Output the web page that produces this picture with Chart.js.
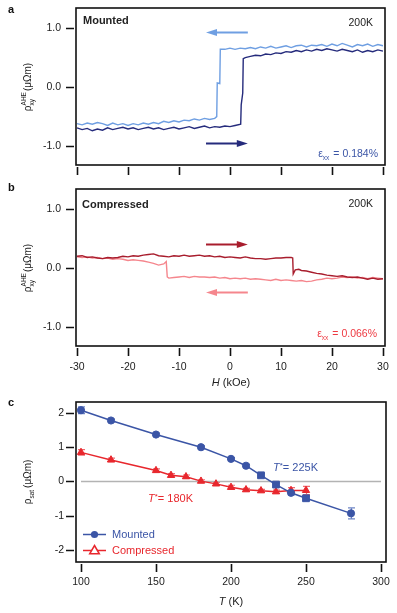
<!DOCTYPE html>
<html><head><meta charset="utf-8">
<script src="https://cdn.jsdelivr.net/npm/chart.js@4/dist/chart.umd.min.js"></script>
<style>
html,body{margin:0;padding:0;background:#fff;width:397px;height:613px;overflow:hidden}
canvas{position:absolute;left:0;top:0;width:397px;height:613px}
</style></head>
<body>
<canvas id="ca" width="397" height="613"></canvas>
<canvas id="cb" width="397" height="613"></canvas>
<canvas id="cc" width="397" height="613"></canvas>
<script>
// ---------------- data ----------------
const H_TICKS = [-30, -20, -10, 0, 10, 20, 30];
const RHO_TICKS = [-1, 0, 1];
const T_TICKS = [100, 150, 200, 250, 300];
const RSAT_TICKS = [-2, -1, 0, 1, 2];

// panel a : Mounted, field sweep down (light blue)
const A_DOWN_H = [30,29,28,27,26,25,24,23,22,21,20,19,18,17,16,15,14,13,12,11,10,9,8,7,6,5,4,3,2,1,0,-1,-1.9,-2.0,-2.5,-2.6,-3,-4,-5,-6,-7,-8,-9,-10,-11,-12,-13,-14,-15,-16,-17,-18,-19,-20,-21,-22,-23,-24,-25,-26,-27,-28,-29,-30];
const A_DOWN_RHO = [0.70,0.72,0.69,0.73,0.70,0.72,0.68,0.71,0.74,0.70,0.73,0.69,0.72,0.70,0.71,0.68,0.71,0.70,0.67,0.70,0.68,0.66,0.69,0.66,0.68,0.65,0.67,0.65,0.66,0.64,0.66,0.64,0.64,0.06,0.07,-0.50,-0.53,-0.55,-0.53,-0.56,-0.54,-0.57,-0.56,-0.59,-0.57,-0.60,-0.58,-0.62,-0.60,-0.63,-0.61,-0.64,-0.62,-0.65,-0.62,-0.64,-0.61,-0.65,-0.62,-0.60,-0.63,-0.61,-0.64,-0.62];
// panel a : Mounted, field sweep up (navy)
const A_UP_H = [-30,-29,-28,-27,-26,-25,-24,-23,-22,-21,-20,-19,-18,-17,-16,-15,-14,-13,-12,-11,-10,-9,-8,-7,-6,-5,-4,-3,-2,-1,0,1,2.1,2.2,2.5,2.6,3,4,5,6,7,8,9,10,11,12,13,14,15,16,17,18,19,20,21,22,23,24,25,26,27,28,29,30];
const A_UP_RHO = [-0.69,-0.72,-0.70,-0.74,-0.71,-0.73,-0.69,-0.72,-0.70,-0.68,-0.71,-0.69,-0.72,-0.70,-0.68,-0.71,-0.69,-0.72,-0.70,-0.68,-0.71,-0.69,-0.67,-0.70,-0.68,-0.66,-0.69,-0.67,-0.68,-0.66,-0.67,-0.65,-0.63,-0.30,-0.10,0.48,0.50,0.52,0.54,0.53,0.56,0.55,0.58,0.57,0.60,0.59,0.62,0.60,0.63,0.61,0.64,0.62,0.65,0.63,0.61,0.64,0.62,0.60,0.63,0.59,0.62,0.60,0.63,0.61];

// panel b : Compressed, field sweep up (dark red)
const B_UP_H = [-30,-29,-28,-27,-26,-25,-24,-23,-22,-21,-20,-19,-18,-17,-16,-15,-14,-13,-12,-11,-10,-9,-8,-7,-6,-5,-4,-3,-2,-1,0,1,2,3,4,5,6,7,8,9,10,11,12,12.3,12.4,12.8,13.5,14,15,16,17,18,19,20,21,22,23,24,25,26,27,28,29,30];
const B_UP_RHO = [0.20,0.21,0.18,0.19,0.17,0.16,0.18,0.17,0.18,0.20,0.19,0.21,0.20,0.22,0.23,0.24,0.21,0.20,0.19,0.21,0.20,0.22,0.20,0.21,0.22,0.20,0.21,0.19,0.20,0.18,0.19,0.18,0.17,0.19,0.17,0.16,0.16,0.15,0.16,0.17,0.17,0.18,0.18,0.17,-0.10,-0.03,-0.02,-0.04,-0.05,-0.07,-0.09,-0.10,-0.12,-0.13,-0.14,-0.13,-0.15,-0.16,-0.15,-0.17,-0.19,-0.17,-0.19,-0.18];
// panel b : Compressed, field sweep down (light red)
const B_DOWN_H = [30,29,28,27,26,25,24,23,22,21,20,19,18,17,16,15,14,13,12,11,10,9,8,7,6,5,4,3,2,1,0,-1,-2,-3,-4,-5,-6,-7,-8,-9,-10,-11,-12,-12.3,-12.5,-13,-14,-15,-16,-17,-18,-19,-20,-21,-22,-23,-24,-25,-26,-27,-28,-29,-30];
const B_DOWN_RHO = [-0.18,-0.17,-0.16,-0.18,-0.16,-0.17,-0.15,-0.16,-0.15,-0.17,-0.18,-0.17,-0.19,-0.20,-0.22,-0.23,-0.21,-0.22,-0.21,-0.20,-0.21,-0.19,-0.21,-0.20,-0.19,-0.18,-0.19,-0.17,-0.18,-0.17,-0.18,-0.16,-0.17,-0.15,-0.16,-0.15,-0.15,-0.14,-0.16,-0.14,-0.15,-0.16,-0.17,-0.15,0.11,0.07,0.05,0.08,0.10,0.12,0.13,0.14,0.13,0.15,0.16,0.15,0.17,0.16,0.18,0.17,0.19,0.18,0.19];

// panel c : saturated AHE vs temperature
const T_MOUNTED = [100,120,150,180,200,210,220,230,240,250,280];
const RSAT_MOUNTED = [2.08,1.78,1.37,1.00,0.66,0.46,0.18,-0.09,-0.33,-0.49,-0.93];
const ERR_MOUNTED = [0.10,0.04,0.04,0.04,0.04,0.04,0.05,0.05,0.06,0.06,0.16];
const T_COMPRESSED = [100,120,150,160,170,180,190,200,210,220,230,240,250];
const RSAT_COMPRESSED = [0.85,0.63,0.32,0.18,0.14,0.01,-0.07,-0.17,-0.24,-0.27,-0.30,-0.26,-0.26];
const ERR_COMPRESSED = [0.08,0.05,0.05,0.05,0.05,0.04,0.04,0.06,0.04,0.04,0.05,0.08,0.12];
const ZERO_T = [100,300];
const ZERO_V = [0,0];

// ---------------- style ----------------
const FAM = '"Liberation Sans", Arial, Helvetica, sans-serif';
const LIGHT_BLUE = '#6f9fe2', NAVY = '#252b7c';
const DARK_RED = '#a81d2d', LIGHT_RED = '#f5868d';
const C_BLUE = '#3b55a6', C_RED = '#e8272d';
function fnt(size, style){ return (style ? style + ' ' : '') + size + 'px ' + FAM; }
function pts(xs, ys){ return xs.map((x,i)=>({x:x, y:ys[i]})); }
function fixedTicks(vals){ return s => { s.ticks = vals.map(v => ({value:v})); }; }
function fitX(h){ return s => { s.height = h; s.paddingLeft = 0; s.paddingRight = 0; s.paddingTop = 0; s.paddingBottom = 0; }; }
function fitY(w){ return s => { s.width = w; s.paddingLeft = 0; s.paddingRight = 0; s.paddingTop = 0; s.paddingBottom = 0; }; }

function rich(ctx, segs, x, y, align, color){
  let w = 0;
  segs.forEach(s => {
    if (s.stack){ ctx.font = fnt(s.size); s.w = Math.max(...s.stack.map(t=>ctx.measureText(t.t).width)); }
    else { ctx.font = fnt(s.size, s.style); s.w = ctx.measureText(s.t).width; }
    w += s.w + (s.gap||0);
  });
  let cx = align === 'right' ? x - w : (align === 'center' ? x - w/2 : x);
  ctx.fillStyle = color; ctx.textAlign = 'left'; ctx.textBaseline = 'alphabetic';
  segs.forEach(s => {
    if (s.stack){ ctx.font = fnt(s.size); s.stack.forEach(t => ctx.fillText(t.t, cx, y + t.dy)); }
    else { ctx.font = fnt(s.size, s.style); ctx.fillText(s.t, cx, y + (s.dy||0)); }
    cx += s.w + (s.gap||0);
  });
}
function text(ctx, s, x, y, size, style, color, align){
  ctx.font = fnt(size, style); ctx.fillStyle = color; ctx.textAlign = align || 'left'; ctx.textBaseline = 'alphabetic';
  ctx.fillText(s, x, y);
}
function vTitle(ctx, segs, cx, cy){
  ctx.save(); ctx.translate(cx, cy); ctx.rotate(-Math.PI/2);
  rich(ctx, segs, 0, 4, 'center', '#222');
  ctx.restore();
}
function arrow(ctx, chart, x1, x2, yv, color, dir){
  const xs = chart.scales.x, ys = chart.scales.y;
  const a = xs.getPixelForValue(x1), b = xs.getPixelForValue(x2), y = Math.round(ys.getPixelForValue(yv)) + 0.5;
  const head = 11, hh = 3.6;
  ctx.save(); ctx.strokeStyle = color; ctx.fillStyle = color; ctx.lineWidth = 2;
  ctx.beginPath();
  if (dir > 0){ ctx.moveTo(a, y); ctx.lineTo(b - head + 1, y); }
  else { ctx.moveTo(b, y); ctx.lineTo(a + head - 1, y); }
  ctx.stroke();
  ctx.beginPath();
  if (dir > 0){ ctx.moveTo(b, y); ctx.lineTo(b - head, y - hh); ctx.lineTo(b - head, y + hh); }
  else { ctx.moveTo(a, y); ctx.lineTo(a + head, y - hh); ctx.lineTo(a + head, y + hh); }
  ctx.closePath(); ctx.fill();
  ctx.restore();
}
function frame(chart){
  const ctx = chart.ctx, ca = chart.chartArea;
  ctx.save(); ctx.strokeStyle = '#111'; ctx.lineWidth = 1.6;
  ctx.strokeRect(ca.left, ca.top, ca.right - ca.left, ca.bottom - ca.top);
  ctx.lineWidth = 1.6; ctx.beginPath();
  chart.scales.x.ticks.forEach(t => { const p = Math.round(chart.scales.x.getPixelForValue(t.value)) + 0.5; ctx.moveTo(p, ca.bottom + 2); ctx.lineTo(p, ca.bottom + 10); });
  chart.scales.y.ticks.forEach(t => { const p = Math.round(chart.scales.y.getPixelForValue(t.value)) + 0.5; ctx.moveTo(ca.left - 2, p); ctx.lineTo(ca.left - 10, p); });
  ctx.stroke(); ctx.restore();
}
function deco(fnAfter, fnBefore){
  return { id:'deco',
    beforeDatasetsDraw(chart){ if (fnBefore) fnBefore(chart, chart.ctx); },
    afterDraw(chart){ frame(chart); fnAfter(chart, chart.ctx); } };
}
const TICK_FONT = {family: FAM, size: 10.5};
function baseOptions(pad, xCfg, yCfg){
  return {
    responsive:false, animation:false, devicePixelRatio:1,
    layout:{padding:pad},
    plugins:{legend:{display:false}, tooltip:{enabled:false}},
    elements:{point:{radius:0}, line:{tension:0}},
    scales:{
      x: Object.assign({type:'linear', grid:{display:false, drawTicks:false}, border:{display:false}}, xCfg),
      y: Object.assign({type:'linear', grid:{display:false, drawTicks:false}, border:{display:false}}, yCfg)
    }
  };
}
const RHO_TITLE = [
  {t:'\u03C1', size:10},
  {stack:[{t:'xy', dy:3}, {t:'AHE', dy:-5}], size:6.5, gap:1},
  {t:'(\u03BC\u03A9m)', size:10}
];

// ---------------- panel a ----------------
new Chart(document.getElementById('ca'), {
  type:'line',
  data:{datasets:[
    {data:pts(A_UP_H, A_UP_RHO), borderColor:NAVY, borderWidth:1.4},
    {data:pts(A_DOWN_H, A_DOWN_RHO), borderColor:LIGHT_BLUE, borderWidth:1.4}
  ]},
  options: baseOptions({left:0, right:12, top:8, bottom:428},
    {min:-30.2, max:30.4, afterBuildTicks:fixedTicks(H_TICKS), afterFit:fitX(20), ticks:{display:false}},
    {min:-1.32, max:1.34, afterBuildTicks:fixedTicks(RHO_TICKS), afterFit:fitY(76),
     ticks:{padding:15, font:TICK_FONT, color:'#222', callback:v=>v.toFixed(1)}}),
  plugins:[deco((chart, ctx) => {
    text(ctx, 'a', 8, 13, 11, 'bold', '#111');
    text(ctx, 'Mounted', 83, 24, 11, 'bold', '#222');
    text(ctx, '200K', 373, 26, 10.5, '', '#222', 'right');
    rich(ctx, [{t:'\u03B5', size:10.5}, {t:'xx', size:6.5, dy:3, gap:4}, {t:'= 0.184%', size:10.5}], 378, 157, 'right', C_BLUE);
    vTitle(ctx, RHO_TITLE, 27, 87);
    arrow(ctx, chart, -4.7, 3.5, 0.93, LIGHT_BLUE, -1);
    arrow(ctx, chart, -4.7, 3.5, -0.95, NAVY, 1);
  })]
});

// ---------------- panel b ----------------
new Chart(document.getElementById('cb'), {
  type:'line',
  data:{datasets:[
    {data:pts(B_UP_H, B_UP_RHO), borderColor:DARK_RED, borderWidth:1.4},
    {data:pts(B_DOWN_H, B_DOWN_RHO), borderColor:LIGHT_RED, borderWidth:1.4}
  ]},
  options: baseOptions({left:0, right:12, top:189, bottom:227},
    {min:-30.2, max:30.4, afterBuildTicks:fixedTicks(H_TICKS), afterFit:fitX(40),
     ticks:{padding:15, font:TICK_FONT, color:'#222', maxRotation:0, autoSkip:false}},
    {min:-1.32, max:1.34, afterBuildTicks:fixedTicks(RHO_TICKS), afterFit:fitY(76),
     ticks:{padding:15, font:TICK_FONT, color:'#222', callback:v=>v.toFixed(1)}}),
  plugins:[deco((chart, ctx) => {
    text(ctx, 'b', 8, 191, 11, 'bold', '#111');
    text(ctx, 'Compressed', 82, 208, 11, 'bold', '#222');
    text(ctx, '200K', 373, 207, 10.5, '', '#222', 'right');
    rich(ctx, [{t:'\u03B5', size:10.5}, {t:'xx', size:6.5, dy:3, gap:4}, {t:'= 0.066%', size:10.5}], 377, 337, 'right', '#ee3a42');
    vTitle(ctx, RHO_TITLE, 27, 268);
    rich(ctx, [{t:'H', size:11, style:'italic', gap:0}, {t:' (kOe)', size:11}], 231, 386, 'center', '#222');
    arrow(ctx, chart, -4.7, 3.5, 0.41, DARK_RED, 1);
    arrow(ctx, chart, -4.7, 3.5, -0.41, LIGHT_RED, -1);
  })]
});

// ---------------- panel c ----------------
function errBars(chart, ctx){
  const xs = chart.scales.x, ys = chart.scales.y;
  const sets = [[T_MOUNTED, RSAT_MOUNTED, ERR_MOUNTED, '#6f86c6'], [T_COMPRESSED, RSAT_COMPRESSED, ERR_COMPRESSED, '#f06a70']];
  ctx.save(); ctx.lineWidth = 1.2;
  sets.forEach(([T, V, E, col]) => {
    ctx.strokeStyle = col; ctx.beginPath();
    T.forEach((t, i) => {
      const x = Math.round(xs.getPixelForValue(t)) + 0.5, y1 = ys.getPixelForValue(V[i] + E[i]), y2 = ys.getPixelForValue(V[i] - E[i]);
      ctx.moveTo(x, y1); ctx.lineTo(x, y2);
      ctx.moveTo(x - 3.5, y1); ctx.lineTo(x + 3.5, y1);
      ctx.moveTo(x - 3.5, y2); ctx.lineTo(x + 3.5, y2);
    });
    ctx.stroke();
  });
  ctx.restore();
}
const MOUNTED_STYLE = ['circle','circle','circle','circle','circle','circle','rect','rect','circle','rect','circle'];
new Chart(document.getElementById('cc'), {
  type:'line',
  data:{datasets:[
    {data:pts(T_MOUNTED, RSAT_MOUNTED), borderColor:C_BLUE, backgroundColor:C_BLUE, borderWidth:1.5,
     pointStyle:MOUNTED_STYLE, pointRadius:MOUNTED_STYLE.map(s => s === 'rect' ? 4.8 : 3.6), pointBorderWidth:1},
    {data:pts(T_COMPRESSED, RSAT_COMPRESSED), borderColor:C_RED, backgroundColor:C_RED, borderWidth:1.5,
     pointStyle:'triangle', pointRadius:4.2, pointBorderWidth:1},
    {data:pts(ZERO_T, ZERO_V), borderColor:'#b3b3b3', borderWidth:1.5, pointRadius:0}
  ]},
  options: baseOptions({left:0, right:11, top:402, bottom:11},
    {min:96.67, max:303.33, afterBuildTicks:fixedTicks(T_TICKS), afterFit:fitX(40),
     ticks:{padding:14, font:TICK_FONT, color:'#222', maxRotation:0, autoSkip:false}},
    {min:-2.35, max:2.32, afterBuildTicks:fixedTicks(RSAT_TICKS), afterFit:fitY(76),
     ticks:{padding:12, font:TICK_FONT, color:'#222'}}),
  plugins:[deco((chart, ctx) => {
    text(ctx, 'c', 8, 406, 11, 'bold', '#111');
    vTitle(ctx, [{t:'\u03C1', size:10}, {t:'sat', size:6.5, dy:3, gap:2}, {t:'(\u03BC\u03A9m)', size:10}], 27, 482);
    rich(ctx, [{t:'T', size:11, style:'italic'}, {t:' (K)', size:11}], 231, 605, 'center', '#222');
    rich(ctx, [{t:'T', size:11, style:'italic'}, {t:'*', size:8, dy:-3}, {t:'= 180K', size:11}], 148, 502, 'left', C_RED);
    rich(ctx, [{t:'T', size:11, style:'italic'}, {t:'*', size:8, dy:-3}, {t:'= 225K', size:11}], 273, 471, 'left', C_BLUE);
    ctx.save();
    ctx.lineWidth = 1.5;
    ctx.strokeStyle = C_BLUE; ctx.beginPath(); ctx.moveTo(83, 534.5); ctx.lineTo(106, 534.5); ctx.stroke();
    ctx.fillStyle = C_BLUE; ctx.beginPath(); ctx.arc(94.5, 534.5, 3.6, 0, Math.PI*2); ctx.fill();
    ctx.strokeStyle = C_RED; ctx.beginPath(); ctx.moveTo(83, 550.5); ctx.lineTo(106, 550.5); ctx.stroke();
    ctx.fillStyle = '#fff'; ctx.beginPath(); ctx.moveTo(94.5, 545.5); ctx.lineTo(99.3, 553.8); ctx.lineTo(89.7, 553.8); ctx.closePath(); ctx.fill(); ctx.stroke();
    ctx.restore();
    text(ctx, 'Mounted', 112, 538, 11, '', C_BLUE);
    text(ctx, 'Compressed', 112, 554, 11, '', C_RED);
  }, errBars)]
});
</script>
</body></html>
